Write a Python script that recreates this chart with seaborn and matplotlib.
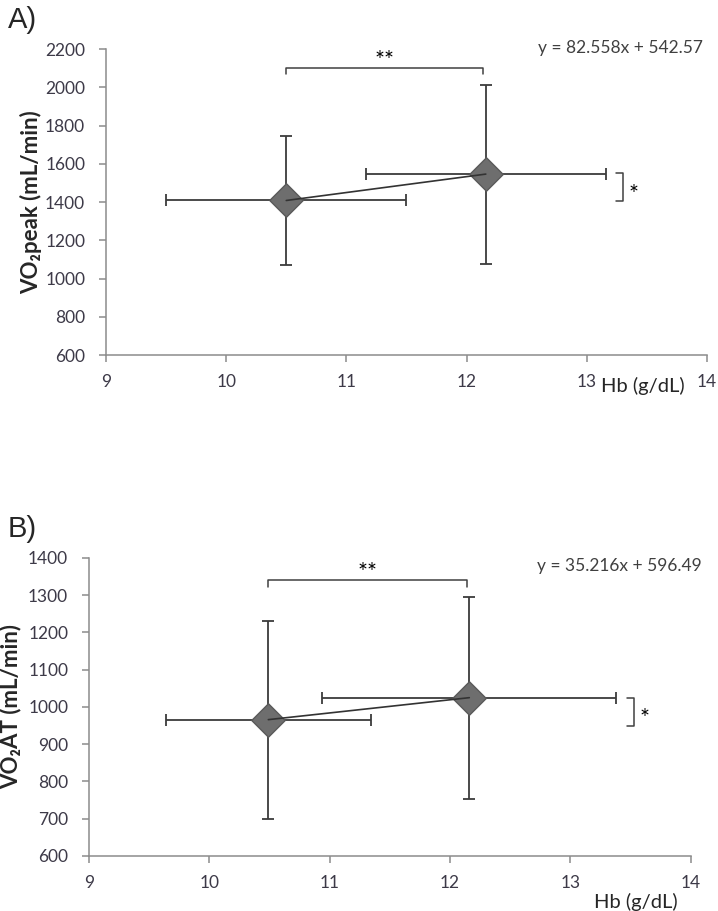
import pandas as pd
import matplotlib.pyplot as plt
import seaborn as sns

# Panel A: Hb vs VO2peak (mean +/- SD)
hb_a = [10.50, 12.16]
hb_sd_a = [1.00, 1.00]
vo2peak = [1408, 1546]
vo2peak_sd = [335, 468]

# Panel B: Hb vs VO2AT (mean +/- SD)
hb_b = [10.49, 12.16]
hb_sd_b = [0.85, 1.22]
vo2at = [966, 1025]
vo2at_sd = [266, 271]

eq_a = "y = 82.558x + 542.57"
eq_b = "y = 35.216x + 596.49"
x_ticks = [9, 10, 11, 12, 13, 14]
y_ticks_a = list(range(600, 2201, 200))
y_ticks_b = list(range(600, 1401, 100))

sns.set_theme(style="white")
plt.rcParams["font.family"] = ["Lato", "DejaVu Sans"]

AXIS_GREY = "#8c8c8c"
BAR_COL = "#3c3c3c"
TICK_COL = "#3d3a48"


def draw_panel(ax, x, xsd, y, ysd, yticks, ylabel, eq, eq_pos,
               sig2_y, sig2_h, sig1_x, sig1_y, ylab_x, xlab_pos):
    df = pd.DataFrame({"Hb": x, "VO2": y})
    ax.errorbar(x, y, xerr=xsd, yerr=ysd, fmt="none", ecolor=BAR_COL,
                elinewidth=1.3, capsize=4, capthick=1.3, zorder=2)
    sns.scatterplot(data=df, x="Hb", y="VO2", marker="D", s=290,
                    color="#6e6e6e", edgecolor="#5a5a5a", linewidth=1,
                    zorder=3, ax=ax)
    sns.lineplot(data=df, x="Hb", y="VO2", color="#333333", lw=1.2,
                 zorder=4, ax=ax)

    ax.set_xlim(x_ticks[0], x_ticks[-1])
    ax.set_ylim(yticks[0], yticks[-1])
    ax.set_xticks(x_ticks)
    ax.set_yticks(yticks)
    sns.despine(ax=ax)
    for s in ["left", "bottom"]:
        ax.spines[s].set_color(AXIS_GREY)
        ax.spines[s].set_linewidth(1.1)
    ax.tick_params(axis="both", direction="out", length=5, width=1.1,
                   color=AXIS_GREY, labelsize=12.5, labelcolor=TICK_COL,
                   left=True, bottom=True)
    ax.tick_params(axis="x", pad=9)
    ax.tick_params(axis="y", pad=10)

    ax.set_ylabel(ylabel, fontsize=16, fontweight="bold", color="#262626")
    ax.yaxis.set_label_coords(ylab_x, 0.5)
    ax.set_xlabel("Hb (g/dL)", fontsize=14.5, color="#262626")
    ax.xaxis.set_label_coords(*xlab_pos)

    ax.text(eq_pos[0], eq_pos[1], eq, transform=ax.transAxes, ha="right",
            va="center", fontsize=12.5, color="#404040")

    # ** bracket between the two groups
    x0, x1 = x[0], x[1] - 0.02
    ax.plot([x0, x0, x1, x1], [sig2_y - sig2_h, sig2_y, sig2_y, sig2_y - sig2_h],
            color="#404040", lw=1.1, zorder=1)
    ax.annotate("**", ((x0 + x1) / 2, sig2_y), xytext=(0, -2),
                textcoords="offset points", ha="center", va="bottom",
                fontsize=17, color="black")

    # * bracket on the right
    y0, y1 = sig1_y
    ax.plot([sig1_x - 0.06, sig1_x, sig1_x, sig1_x - 0.06], [y1, y1, y0, y0],
            color="#404040", lw=1.1, zorder=1)
    ax.annotate("*", (sig1_x, (y0 + y1) / 2), xytext=(4, -5),
                textcoords="offset points", ha="left", va="center",
                fontsize=17, color="black")


fig = plt.figure(figsize=(7.18, 9.11), dpi=100)
ax_a = fig.add_axes([0.1476, 0.6103, 0.837, 0.3359])
ax_b = fig.add_axes([0.1240, 0.0604, 0.838, 0.3271])

draw_panel(ax_a, hb_a, hb_sd_a, vo2peak, vo2peak_sd, y_ticks_a,
           "VO\u2082peak (mL/min)", eq_a, (0.993, 1.003),
           2100, 32, 13.30, (1405, 1550), -0.106, (0.893, -0.072))
draw_panel(ax_b, hb_b, hb_sd_b, vo2at, vo2at_sd, y_ticks_b,
           "VO\u2082AT (mL/min)", eq_b, (1.019, 0.974),
           1340, 17, 13.53, (950, 1025), -0.113, (0.908, -0.125))

fig.text(0.011, 0.993, "A)", fontsize=21, family="Liberation Sans",
         ha="left", va="top")
fig.text(0.011, 0.435, "B)", fontsize=21, family="Liberation Sans",
         ha="left", va="top")

fig.savefig("out.png", dpi=100)
plt.close(fig)
